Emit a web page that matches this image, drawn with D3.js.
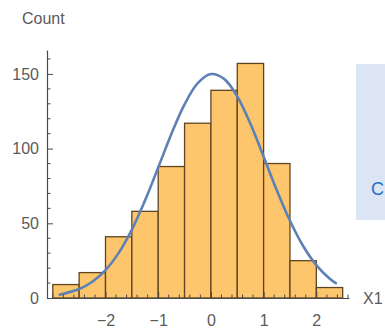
<!DOCTYPE html>
<html>
<head>
<meta charset="utf-8">
<script src="https://cdn.jsdelivr.net/npm/d3@7/dist/d3.min.js"></script>
<style>
  html, body { margin: 0; padding: 0; background: #fff; }
  svg { display: block; }
  text { font-family: "Liberation Sans", Arial, sans-serif; }
</style>
</head>
<body>
<svg id="chart" width="385" height="335"></svg>
<script>
// Histogram bins (left edge, right edge) and counts
const binEdges = [-3, -2.5, -2, -1.5, -1, -0.5, 0, 0.5, 1, 1.5, 2, 2.5];
const counts = [9, 17, 41, 58, 88, 117, 139, 157, 90, 25, 7];

// Fitted density curve, sampled along x (scaled to counts)
const curveX = [-2.87, -2.5, -2.25, -2, -1.75, -1.5, -1.25, -1, -0.75, -0.5, -0.25, 0, 0.25, 0.5, 0.75, 1, 1.25, 1.5, 1.75, 2, 2.25, 2.37];
const curveY = [2.2, 6, 10.9, 18.7, 30.2, 45.8, 65.3, 87.3, 109.8, 129.6, 143.8, 149.9, 146.7, 134.9, 116.6, 94.6, 72.1, 51.7, 34.8, 22, 13, 9.9];

// Axis ticks
const xMajor = [-2, -1, 0, 1, 2];
const yMajor = [0, 50, 100, 150];
const xLabel = "X1";
const yLabel = "Count";

const svg = d3.select("#chart");
const x = d3.scaleLinear().domain([-3.11, 2.62]).range([47, 349]);
const y = d3.scaleLinear().domain([0, 166]).range([298, 50]);

const axisColor = "#4a4a4a";
const labelColor = "#5a5a5a";

// Side panel at the right edge
svg.append("rect")
  .attr("x", 356).attr("y", 64).attr("width", 40).attr("height", 156)
  .attr("fill", "#dce5f4");
svg.append("text")
  .attr("x", 371).attr("y", 195)
  .attr("fill", "#1f6fc5")
  .style("font-size", "18px")
  .text("C");

// Bars
const bins = counts.map((c, i) => ({ x0: binEdges[i], x1: binEdges[i + 1], n: c }));
svg.append("g").selectAll("rect").data(bins).join("rect")
  .attr("x", d => x(d.x0))
  .attr("y", d => y(d.n))
  .attr("width", d => x(d.x1) - x(d.x0))
  .attr("height", d => y(0) - y(d.n))
  .attr("fill", "#fdc66c")
  .attr("stroke", "#5f4421")
  .attr("stroke-width", 1.3);

// Density curve
const pts = curveX.map((v, i) => [v, curveY[i]]);
svg.append("path")
  .datum(pts)
  .attr("fill", "none")
  .attr("stroke", "#5e81b5")
  .attr("stroke-width", 2.6)
  .attr("stroke-linecap", "round")
  .attr("d", d3.line().x(d => x(d[0])).y(d => y(d[1])).curve(d3.curveCatmullRom));

// X axis: ticks point up into the plot
const xAxis = d3.axisBottom(x).tickValues(xMajor).tickSize(-6).tickSizeOuter(0)
  .tickFormat(d => d < 0 ? "\u2212" + Math.abs(d) : d);
const gx = svg.append("g").attr("transform", `translate(0,${y(0)})`).call(xAxis);
gx.select(".domain").attr("stroke", axisColor).attr("stroke-width", 1.2);
gx.selectAll(".tick line").attr("stroke", axisColor);
gx.selectAll(".tick text").attr("fill", labelColor).attr("y", 17).attr("dy", "0.71em")
  .style("font-size", "16px");
const xMinor = d3.range(-3, 2.61, 0.2).map(v => Math.round(v * 10) / 10).filter(v => !xMajor.includes(v));
gx.selectAll(".minor").data(xMinor).join("line")
  .attr("class", "minor")
  .attr("x1", d => x(d)).attr("x2", d => x(d))
  .attr("y1", 0).attr("y2", -3.5)
  .attr("stroke", axisColor);

// Y axis: ticks point right into the plot
const yAxis = d3.axisLeft(y).tickValues(yMajor).tickSize(-6).tickSizeOuter(0);
const gy = svg.append("g").attr("transform", `translate(${x.range()[0]},0)`).call(yAxis);
gy.select(".domain").attr("stroke", axisColor).attr("stroke-width", 1.2);
gy.selectAll(".tick line").attr("stroke", axisColor);
gy.selectAll(".tick text").attr("fill", labelColor).attr("x", -8)
  .style("font-size", "16px");
const yMinor = d3.range(10, 161, 10).filter(v => v % 50 !== 0);
gy.selectAll(".minor").data(yMinor).join("line")
  .attr("class", "minor")
  .attr("y1", d => y(d)).attr("y2", d => y(d))
  .attr("x1", 0).attr("x2", 3.5)
  .attr("stroke", axisColor);

// Axis titles
svg.append("text")
  .attr("x", 363).attr("y", y(0) + 6)
  .attr("fill", labelColor)
  .style("font-size", "16px")
  .text(xLabel);
svg.append("text")
  .attr("x", 22).attr("y", 24)
  .attr("fill", labelColor)
  .style("font-size", "16px")
  .text(yLabel);
</script>
</body>
</html>
